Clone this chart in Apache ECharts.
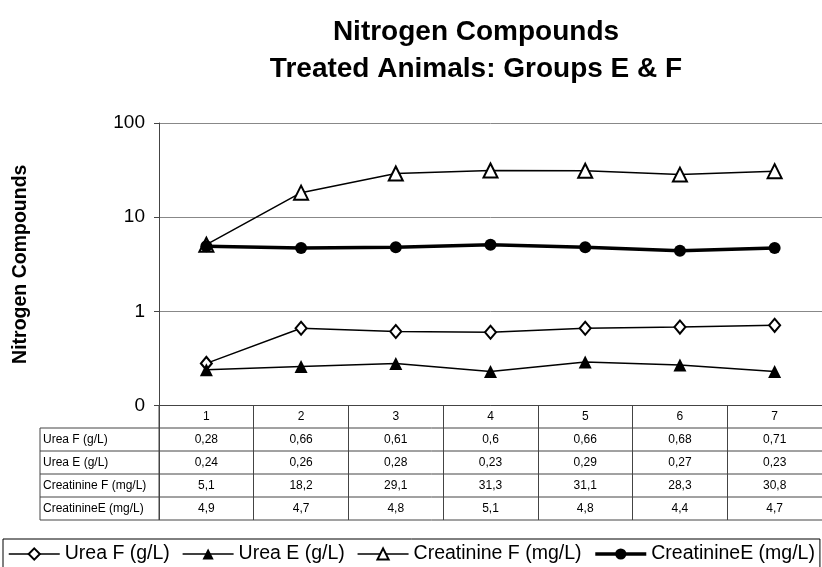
<!DOCTYPE html>
<html>
<head>
<meta charset="utf-8">
<script src="https://cdn.jsdelivr.net/npm/echarts@6/dist/echarts.min.js"></script>
<style>
html,body{margin:0;padding:0;background:#fff;}
#chart{width:822px;height:567px;}
</style>
</head>
<body>
<div id="chart"></div>
<script>
const categories = ['1', '2', '3', '4', '5', '6', '7'];
const ureaF = [0.28, 0.66, 0.61, 0.6, 0.66, 0.68, 0.71];
const ureaE = [0.24, 0.26, 0.28, 0.23, 0.29, 0.27, 0.23];
const creatinineF = [5.1, 18.2, 29.1, 31.3, 31.1, 28.3, 30.8];
const creatinineE = [4.9, 4.7, 4.8, 5.1, 4.8, 4.4, 4.7];
const seriesNames = ['Urea F (g/L)', 'Urea E (g/L)', 'Creatinine F (mg/L)', 'CreatinineE (mg/L)'];
const titleText = 'Nitrogen Compounds\nTreated Animals: Groups E & F';
const yAxisName = 'Nitrogen Compounds';

const FONT = '"Liberation Sans", Arial, sans-serif';
const chart = echarts.init(document.getElementById('chart'));

const GRID = { left: 159, top: 123, width: 674, height: 282.5 };
const ROW_TOP = GRID.top + GRID.height;      // x axis line
const ROW_LINES = [428, 451, 474, 497, 520];  // table row borders
const TABLE_LEFT = 40;

const lineStyle = { color: '#000', width: 1.5 };
const lineWidths = [1.5, 1.5, 1.5, 3.5];

const option = {
  animation: false,
  backgroundColor: '#fff',
  title: {
    text: titleText,
    left: 476,
    top: 14,
    textAlign: 'center',
    padding: 0,
    textStyle: { fontFamily: FONT, fontSize: 28, fontWeight: 'bold', color: '#000', lineHeight: 37 }
  },
  legend: {
    data: seriesNames.map((n, i) => ({ name: n, lineStyle: { width: lineWidths[i], color: '#000' } })),
    left: 3,
    top: 539,
    width: 816,
    padding: [5, 5, 10, 5],
    borderColor: '#000',
    borderWidth: 1,
    itemWidth: 51,
    itemHeight: 14,
    itemGap: 12,
    textStyle: { fontFamily: FONT, fontSize: 19.5, color: '#000' }
  },
  grid: { left: GRID.left, top: GRID.top, width: GRID.width, height: GRID.height },
  xAxis: {
    type: 'category',
    data: categories,
    boundaryGap: true,
    axisLine: { show: true, lineStyle: { color: '#444', width: 1 } },
    axisTick: { show: true, interval: 0, length: 520 - ROW_TOP, lineStyle: { color: '#444', width: 1 } },
    axisLabel: { show: true, interval: 0, margin: 5, fontFamily: FONT, fontSize: 12, color: '#000' },
    splitLine: { show: false }
  },
  yAxis: {
    type: 'log',
    logBase: 10,
    min: 0.1,
    max: 100,
    name: yAxisName,
    nameLocation: 'middle',
    nameRotate: 90,
    nameGap: 128,
    nameTextStyle: { fontFamily: FONT, fontSize: 19.5, fontWeight: 'bold', color: '#000' },
    axisLine: { show: true, lineStyle: { color: '#444', width: 1 } },
    axisTick: { show: true, length: 5, lineStyle: { color: '#444' } },
    axisLabel: {
      margin: 14,
      fontFamily: FONT, fontSize: 19, color: '#000',
      formatter: v => (v < 1 ? '0' : String(Math.round(v)))
    },
    splitLine: { show: true, lineStyle: { color: '#888', width: 1 } }
  },
  series: [
    {
      name: seriesNames[0], type: 'line', data: ureaF,
      symbol: 'emptyDiamond', symbolSize: [11, 13],
      lineStyle: lineStyle,
      itemStyle: { color: '#000', borderColor: '#000', borderWidth: 1.5 }
    },
    {
      name: seriesNames[1], type: 'line', data: ureaE,
      symbol: 'triangle', symbolSize: 13,
      lineStyle: lineStyle,
      itemStyle: { color: '#000', borderColor: '#000', borderWidth: 0 }
    },
    {
      name: seriesNames[2], type: 'line', data: creatinineF,
      symbol: 'emptyTriangle', symbolSize: 14,
      lineStyle: lineStyle,
      itemStyle: { color: '#000', borderColor: '#000', borderWidth: 1.5 }
    },
    {
      name: seriesNames[3], type: 'line', data: creatinineE,
      symbol: 'circle', symbolSize: 12,
      lineStyle: { color: '#000', width: 3.5 },
      itemStyle: { color: '#000', borderColor: '#000', borderWidth: 0 }
    }
  ]
};
chart.setOption(option);

// Data table below the axis
const tableRows = [ureaF, ureaE, creatinineF, creatinineE];
const fmt = v => String(v).replace('.', ',');
const graphics = [];
const rightEdge = GRID.left + GRID.width;
ROW_LINES.forEach(y => {
  graphics.push({ type: 'line', shape: { x1: TABLE_LEFT, y1: y, x2: rightEdge, y2: y }, style: { stroke: '#444', lineWidth: 1 }, silent: true });
});
graphics.push({ type: 'line', shape: { x1: TABLE_LEFT, y1: ROW_LINES[0], x2: TABLE_LEFT, y2: ROW_LINES[ROW_LINES.length - 1] }, style: { stroke: '#444', lineWidth: 1 }, silent: true });
graphics.push({ type: 'line', shape: { x1: GRID.left, y1: ROW_TOP, x2: GRID.left, y2: ROW_LINES[ROW_LINES.length - 1] }, style: { stroke: '#444', lineWidth: 1 }, silent: true });
tableRows.forEach((row, r) => {
  const yc = (ROW_LINES[r] + ROW_LINES[r + 1]) / 2;
  graphics.push({
    type: 'text', x: TABLE_LEFT + 3, y: yc, silent: true,
    style: { text: seriesNames[r], fontFamily: FONT, fontSize: 12, fill: '#000', align: 'left', verticalAlign: 'middle' }
  });
  row.forEach((v, i) => {
    const xc = chart.convertToPixel({ xAxisIndex: 0 }, categories[i]);
    graphics.push({
      type: 'text', x: xc, y: yc, silent: true,
      style: { text: fmt(v), fontFamily: FONT, fontSize: 12, fill: '#000', align: 'center', verticalAlign: 'middle' }
    });
  });
});
chart.setOption({ graphic: graphics });
</script>
</body>
</html>
